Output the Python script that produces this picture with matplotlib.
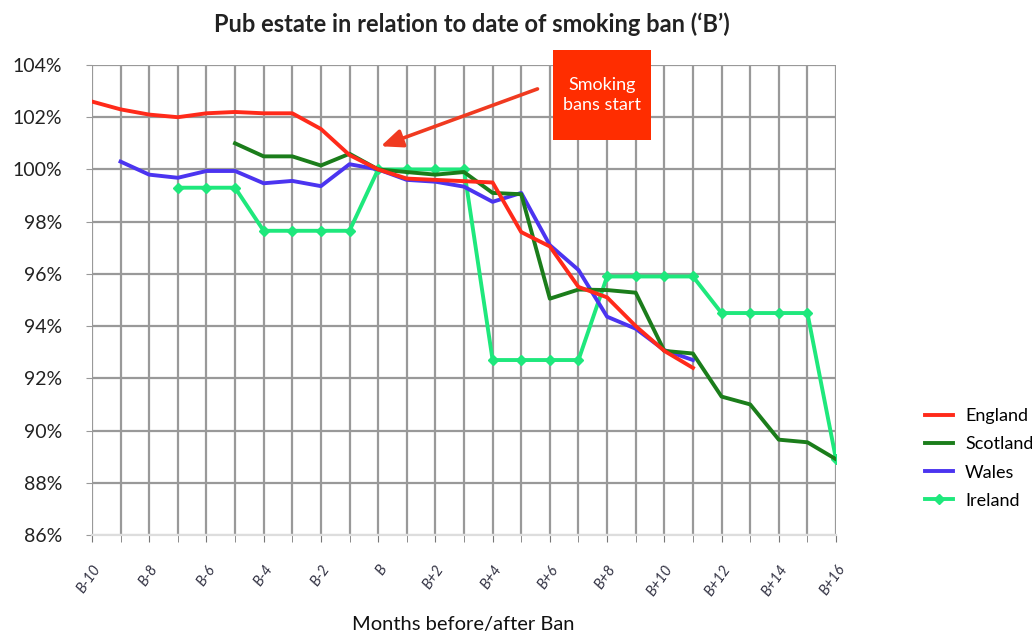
import matplotlib
matplotlib.use("Agg")
import matplotlib.pyplot as plt
from matplotlib.patches import FancyBboxPatch

plt.rcParams['font.family'] = ['Lato', 'DejaVu Sans']

# months relative to ban (B = 0)
months = list(range(-10, 17))
tick_months = list(range(-10, 17, 2))
tick_labels = ['B' if m == 0 else f'B{m:+d}' for m in tick_months]

england = [102.6, 102.3, 102.1, 102.0, 102.15, 102.2, 102.15, 102.15, 101.55, 100.55,
           100.0, 99.65, 99.6, 99.55, 99.5, 97.6, 97.05, 95.5, 95.1, 94.0, 93.05, 92.4]
scotland = [101.0, 100.5, 100.5, 100.15, 100.6, 100.0, 99.9, 99.8, 99.9, 99.1, 99.05,
            95.05, 95.4, 95.38, 95.28, 93.05, 92.95, 91.3, 91.0, 89.65, 89.55, 88.9]
wales = [100.3, 99.8, 99.68, 99.94, 99.94, 99.47, 99.56, 99.36, 100.2, 100.0, 99.6,
         99.53, 99.34, 98.76, 99.1, 97.1, 96.15, 94.36, 93.9, 93.08, 92.7]
ireland = [99.3, 99.3, 99.3, 97.65, 97.65, 97.65, 97.65, 100.0, 100.0, 100.0, 100.0,
           92.7, 92.7, 92.7, 92.7, 95.9, 95.9, 95.9, 95.9, 94.5, 94.5, 94.5, 94.5, 88.9]

fig = plt.figure(figsize=(10.32, 6.39), dpi=100)
ax = fig.add_axes([0.0891, 0.1628, 0.7210, 0.7355])

ax.plot(months[:len(england)], england, color='#ff2a1a', lw=2.8, label='England', zorder=5)
ax.plot(months[5:5 + len(scotland)], scotland, color='#1b7d1b', lw=2.8, label='Scotland', zorder=4)
ax.plot(months[1:1 + len(wales)], wales, color='#4b34f0', lw=2.8, label='Wales', zorder=3)
ax.plot(months[3:3 + len(ireland)], ireland, color='#1ee87c', lw=2.8, marker='D',
        markersize=5.5, label='Ireland', zorder=2)

ax.set_xlim(-10, 16)
ax.set_ylim(86, 104)
ax.set_yticks(range(86, 105, 2))
ax.set_yticklabels([f'{v}%' for v in range(86, 105, 2)], fontsize=14, color='#222222')
ax.set_xticks(tick_months)
ax.set_xticklabels(tick_labels, rotation=55, ha='right', rotation_mode='anchor',
                   fontsize=10.5, color='#333344', style='italic')
ax.set_xticks(months, minor=True)
ax.tick_params(axis='x', which='both', length=5, color='#777777', pad=15)
ax.tick_params(axis='y', length=4.5, color='#999999', pad=17)

ax.grid(True, which='major', axis='both', color='#999999', lw=1.6)
ax.grid(True, which='minor', axis='x', color='#999999', lw=1.6)
for s in ['top', 'right', 'left']:
    ax.spines[s].set_visible(False)
ax.spines['bottom'].set_color('#dddddd')
ax.spines['bottom'].set_linewidth(1.6)
ax.get_ygridlines()[0].set_color('#dddddd')

ax.set_title('Pub estate in relation to date of smoking ban (\u2018B\u2019)',
             fontsize=17, fontweight='bold', color='#222222', pad=24, x=0.51)
fig.text(0.449, 0.022, 'Months before/after Ban', fontsize=14.5, color='#111111',
         ha='center', va='center')

# annotation box and arrow
box = FancyBboxPatch((6.12, 101.13), 3.43, 3.44, boxstyle='square,pad=0',
                     facecolor='#ff2d00', edgecolor='none', clip_on=False, zorder=6)
ax.add_patch(box)
ax.text(7.83, 102.85, 'Smoking\nbans start', color='white', fontsize=13,
        ha='center', va='center', linespacing=1.3, zorder=7)
ax.annotate('', xy=(0.0, 100.85), xytext=(5.66, 103.12),
            arrowprops=dict(arrowstyle='-|>,head_length=1.3,head_width=0.55',
                            color='#f03a20', lw=2.6), zorder=7)

fig.legend(loc='upper left', bbox_to_anchor=(0.881, 0.387), frameon=False,
           fontsize=13, handlelength=1.5, handletextpad=0.7, labelspacing=0.68)

fig.savefig('out.png', dpi=100)
